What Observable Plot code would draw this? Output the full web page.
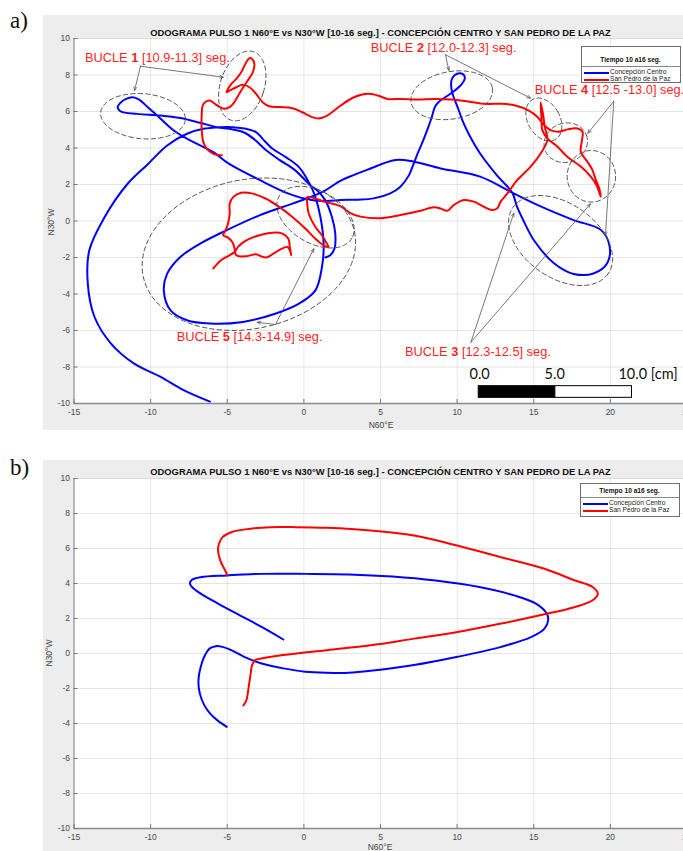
<!DOCTYPE html>
<html><head><meta charset="utf-8">
<script src="https://cdn.jsdelivr.net/npm/d3@7"></script>
<script src="https://cdn.jsdelivr.net/npm/@observablehq/plot@0.6"></script>
<style>
body{margin:0;background:#fff;}
#root{position:relative;width:683px;height:851px;overflow:hidden;font-family:"Liberation Sans",Arial,sans-serif;background:#fff;}
.bg{position:absolute;background:#ededed;}
.ov{position:absolute;white-space:nowrap;line-height:1;}
.pl{position:absolute;left:0;width:700px;}
.pl svg{max-width:none !important;}
</style></head><body>
<div id="root">
  <div class="bg" style="left:43px;top:15px;width:640px;height:415px"></div>
  <div class="bg" style="left:43px;top:460px;width:640px;height:391px"></div>
  <div id="pa" class="pl" style="top:0px"></div>
  <div id="pb" class="pl" style="top:450px"></div>
</div>
<script>
// ---------- data ----------
const xTicks = [-15, -10, -5, 0, 5, 10, 15, 20, 25];
const yTicks = [-10, -8, -6, -4, -2, 0, 2, 4, 6, 8, 10];
const seriesNames = ["Concepción Centro", "San Pedro de la Paz"];
const seriesColors = ["#0000ff", "#ff0000"];
const titleText = "ODOGRAMA PULSO 1 N60°E vs N30°W [10-16 seg.] - CONCEPCIÓN CENTRO Y SAN PEDRO DE LA PAZ";
const legendTitle = "Tiempo 10 a16 seg.";
const xLabel = "N60°E";
const yLabel = "N30°W";
const panelLabels = ["a)", "b)"];

// panel a) Concepción Centro (N60°E, N30°W) in cm
const concepcionA = [
 [1.4,-2.0],[1.72,-1.88],[2.0,-1.5],[2.05,-0.7],[1.83,0.22],[1.4,1.13],[0.86,1.68],[0.43,1.95],
 [-0.6,2.8],[-1.6,3.35],[-2.5,3.9],[-3.2,4.45],[-3.9,4.85],[-4.7,5.02],[-5.7,5.14],[-6.77,5.38],[-8.06,5.64],[-9.35,5.78],[-10.86,5.87],[-11.94,6.0],[-12.15,6.24],[-12.0,6.45],[-11.6,6.69],[-11.18,6.78],[-10.75,6.65],
 [-10.2,6.25],[-9.57,5.78],[-8.49,4.96],[-7.2,4.32],[-5.91,3.77],[-4.9,3.14],[-2.9,2.25],[-1.0,1.5],[0.5,1.15],[1.5,1.1],[2.4,1.15],[3.5,1.17],[4.56,1.24],[5.6,1.5],[6.3,1.88],[6.85,2.5],[7.17,3.16],[7.5,3.85],[7.8,4.44],[8.1,5.1],[8.35,5.7],[8.55,6.25],[8.8,6.52],[9.4,6.88],[9.85,7.15],[10.3,7.5],[10.5,7.8],[10.44,8.0],[10.18,8.1],[9.85,8.0],[9.63,7.7],[9.63,7.24],[9.74,6.88],[10.07,6.15],[10.4,5.4],[10.8,4.7],[11.5,3.7],[12.6,2.5],[13.6,1.55],
 [13.9,0.8],[14.4,-0.1],[15.0,-1.04],[16.3,-2.3],[17.6,-2.9],[18.94,-2.86],[19.8,-2.3],[19.95,-1.4],[19.4,-0.5],[17.6,0.05],[15.45,0.8],[13.6,1.55],[11.5,2.43],[8.92,2.88],[7.17,3.25],[5.97,3.34],[4.12,2.8],[3.2,2.5],[2.38,2.2],[1.4,1.68],[0.4,1.3],[-0.75,0.95],[-2.9,0.31],[-5.05,-0.51],[-6.77,-1.24],[-8.06,-1.97],[-8.92,-2.88],[-9.14,-3.8],[-8.7,-4.9],[-7.63,-5.44],[-6.13,-5.62],[-3.98,-5.53],[-1.83,-5.07],[-0.32,-4.53],[0.75,-3.8],[1.18,-2.52],[1.29,-1.24],[1.08,0.22],[0.75,1.31],[0.43,1.95],
 [-0.32,2.95],[-1.18,3.5],[-2.04,3.96],[-2.69,4.5],[-3.12,4.87],[-3.76,5.05],[-4.62,5.14],[-5.48,5.14],[-6.56,5.05],[-7.63,4.78],[-8.92,4.14],[-10.2,3.1],[-11.5,2.04],[-13.0,0.22],[-14.0,-1.6],[-14.1,-3.43],[-13.66,-5.26],[-12.6,-6.7],[-11.1,-7.8],[-9.35,-8.54],[-7.85,-9.27],[-6.13,-9.9]
];
// panel a) San Pedro de la Paz
const sanPedroA = [
 [-5.35,3.6],[-5.91,3.68],[-6.34,3.96],[-6.56,4.32],[-6.67,5.05],[-6.67,5.78],[-6.6,6.33],[-6.45,6.51],[-6.13,6.6],[-5.81,6.42],[-5.48,6.24],[-5.16,6.15],[-4.84,6.24],[-4.62,6.42],[-4.41,6.69],[-4.09,7.15],[-3.66,7.7],[-3.33,8.15],[-3.23,8.61],[-3.38,8.88],[-3.55,8.92],[-3.76,8.7],[-4.09,8.15],[-4.41,7.79],[-4.73,7.51],[-4.95,7.24],[-5.05,7.06],[-4.84,7.15],[-4.41,7.33],[-3.98,7.46],[-3.55,7.33],[-3.12,6.97],[-2.69,6.51],[-2.26,6.29],[-1.61,6.24],[-0.75,6.18],[-0.11,5.96],[0.54,5.69],[0.97,5.62],[1.52,5.78],[2.4,6.33],[3.27,6.78],[4.15,6.97],[4.81,6.88],[5.46,6.69],[6.34,6.69],[7.44,6.66],[8.53,6.69],[9.63,6.66],[10.73,6.55],[11.82,6.42],[12.92,6.42],[13.8,6.33],[14.68,6.05],[15.23,5.71],[15.67,5.26],[16.1,4.98],[16.65,4.89],[17.19,5.02],[17.85,5.07],[18.18,4.89],[18.13,4.35],[18.07,3.8],[18.5,3.25],[18.83,2.79],[19.05,2.25],[19.27,1.79],[19.37,1.33],
 [19.1,1.95],[18.72,2.43],[18.07,2.98],[17.19,3.52],[16.55,4.07],[15.89,4.53],[15.56,4.98],[15.5,5.71],[15.45,6.5],[15.6,5.9],[15.72,5.16],[15.89,4.44],[15.45,3.7],[14.8,2.98],[13.93,2.25],[13.28,1.51],[12.84,1.06],[12.62,0.7],[12.29,0.6],[11.74,0.78],[11.09,1.06],[10.44,1.15],[9.79,0.88],[9.35,0.56],[8.92,0.69],[8.48,0.75],[7.61,0.56],[6.31,0.33],[5.0,0.15],[3.7,0.24],[3.0,0.45],[2.4,0.8],[1.4,1.04],[0.22,1.31],
 [0.22,0.95],[0.32,0.4],[0.75,-0.33],[1.18,-0.78],[1.5,-1.24],[1.61,-1.42],[1.29,-1.33],[0.75,-0.97],[0.11,-0.42],[-0.75,0.22],[-1.61,0.77],[-2.47,1.22],[-3.33,1.5],[-4.09,1.55],[-4.62,1.31],[-4.84,0.95],[-4.84,0.4],[-4.95,-0.15],[-5.16,-0.6],[-5.27,-0.78],[-4.95,-0.91],[-4.67,-1.15],[-4.52,-1.51],[-4.41,-1.88],[-3.76,-1.93],[-3.12,-1.82],[-2.8,-1.93],[-2.47,-2.0],[-2.04,-1.82],[-1.61,-1.6],[-1.08,-1.42],[-0.92,-1.6],[-0.82,-1.88],[-0.92,-1.42],[-1.01,-0.97],[-1.4,-0.69],[-2.04,-0.64],[-2.9,-0.78],[-3.76,-1.06],[-4.3,-1.42],[-4.52,-1.7],[-5.05,-1.97],[-5.48,-2.2],[-5.91,-2.6]
];
// panel b) Concepción Centro
const concepcionB = [
 [-1.34,0.8],[-2.76,1.52],[-4.18,2.18],[-5.6,2.85],[-6.73,3.42],[-7.3,3.8],[-7.44,4.0],[-7.3,4.21],[-6.73,4.36],[-5.03,4.46],[-2.76,4.55],[0.09,4.55],[2.93,4.52],[5.77,4.4],[8.6,4.17],[11.45,3.8],[13.72,3.32],[15.14,2.85],[15.85,2.28],[15.94,1.9],[15.7,1.42],[14.86,0.95],[12.87,0.38],[10.03,-0.19],[7.19,-0.66],[4.35,-0.99],[2.93,-1.1],[1.5,-1.1],[0.09,-1.04],[-1.34,-0.85],[-2.76,-0.57],[-3.89,-0.19],[-4.74,0.19],[-5.31,0.38],[-5.74,0.42],[-6.16,0.28],[-6.45,-0.09],[-6.73,-0.76],[-6.88,-1.52],[-6.8,-2.25],[-6.5,-2.95],[-6.1,-3.45],[-5.6,-3.85],[-5.03,-4.19]
];
// panel b) San Pedro de la Paz
const sanPedroB = [
 [-4.97,4.46],[-5.17,4.8],[-5.45,5.31],[-5.6,5.89],[-5.54,6.27],[-5.31,6.65],[-4.74,6.93],[-3.6,7.12],[-2.19,7.22],[-0.48,7.22],[1.5,7.18],[4.35,7.03],[7.19,6.74],[10.0,6.17],[12.87,5.5],[15.7,4.84],[17.7,4.17],[18.84,3.8],[19.18,3.42],[18.84,3.04],[17.7,2.66],[15.7,2.24],[12.87,1.71],[10.03,1.23],[7.19,0.85],[4.35,0.47],[1.5,0.19],[-1.34,-0.09],[-2.76,-0.28],[-3.18,-0.38],[-3.38,-0.66],[-3.47,-1.14],[-3.6,-1.9],[-3.75,-2.66],[-3.95,-2.97]
];

// ---------- annotations (panel a) ----------
const loopLabels = [
 {num: "1", range: " [10.9-11.3] seg.", x: -14.25, y: 8.92},
 {num: "2", range: " [12.0-12.3] seg.", x: 4.39, y: 9.46},
 {num: "4", range: " [12.5 -13.0] seg.", x: 15.1, y: 7.15},
 {num: "5", range: " [14.3-14.9] seg.", x: -8.27, y: -6.38},
 {num: "3", range: " [12.3-12.5] seg.", x: 6.63, y: -7.21}
];
const loopEllipses = [
 {id: "e1", cx: -10.50, cy: 5.74, a: 42.5, b: 22.5, angle: 5},
 {id: "e2", cx: -4.02, cy: 7.40, a: 22, b: 36, angle: 18},
 {id: "e3", cx: 9.65, cy: 6.89, a: 41.3, b: 23.7, angle: -10},
 {id: "e4a", cx: 15.66, cy: 5.56, a: 16, b: 23, angle: -30},
 {id: "e4b", cx: 17.09, cy: 4.29, a: 22, b: 19.5, angle: -20},
 {id: "e4c", cx: 18.76, cy: 2.45, a: 24.2, b: 25.8, angle: 0},
 {id: "e5", cx: 16.75, cy: -1.07, a: 58, b: 37, angle: 35},
 {id: "e6", cx: -3.59, cy: -1.82, a: 108, b: 74.5, angle: -12},
 {id: "e7", cx: 0.76, cy: 0.21, a: 42, b: 26, angle: 30}
];
const loopArrows = [
 {x1: -10.66, y1: 8.48, x2: -11.05, y2: 7.15},
 {x1: -10.66, y1: 8.48, x2: -5.26, y2: 7.88},
 {x1: 9.24, y1: 9.11, x2: 9.46, y2: 8.25},
 {x1: 9.24, y1: 9.11, x2: 14.79, y2: 6.73},
 {x1: 20.22, y1: 6.56, x2: 18.53, y2: 4.81},
 {x1: 20.22, y1: 6.56, x2: 19.68, y2: -0.79},
 {x1: 10.9, y1: -6.64, x2: 13.7, y2: 0.43},
 {x1: 10.9, y1: -6.64, x2: 18.7, y2: 0.94},
 {x1: -1.85, y1: -5.67, x2: -3.05, y2: -5.55},
 {x1: -1.85, y1: -5.67, x2: 0.65, y2: -1.52}
];
const scaleBar = [
 {x1: 11.41, x2: 16.41, y1: -9.69, y2: -9.05, fill: "#000"},
 {x1: 16.41, x2: 21.41, y1: -9.69, y2: -9.05, fill: "#fff"}
];
const scaleLabels = [
 {text: "0.0", x: 11.5, y: -8.42, anchor: "middle"},
 {text: "5.0", x: 16.4, y: -8.42, anchor: "middle"},
 {text: "10.0 [cm]", x: 20.56, y: -8.42, anchor: "start"}
];

// ---------- layout ----------
const W = 700, ML = 73.5, MR = 13.5;
const root = document.getElementById("root");
const FONT = '"Liberation Sans", Arial, sans-serif';

function rows(pts) { return pts.map(([x, y], i) => ({x, y, i})); }

function ellipsePoints(list, kx, ky) {
  const out = [];
  for (const e of list) {
    const phi = e.angle * Math.PI / 180;
    for (let k = 0; k <= 90; k++) {
      const t = k / 90 * 2 * Math.PI;
      const c = Math.cos(t), s = Math.sin(t);
      const dx = e.a * c * Math.cos(phi) - e.b * s * Math.sin(phi);
      const dy = e.a * c * Math.sin(phi) + e.b * s * Math.cos(phi);
      out.push({id: e.id, x: e.cx + dx / kx, y: e.cy - dy / ky});
    }
  }
  return out;
}

function makePanel(concep, sanped, H, MT, MB, annotate) {
  const plotW = W - ML - MR, plotH = H - MT - MB;
  const kx = plotW / (xTicks[xTicks.length - 1] - xTicks[0]);
  const ky = plotH / (yTicks[yTicks.length - 1] - yTicks[0]);
  const extra = [];
  if (annotate) {
    extra.push(
      Plot.line(ellipsePoints(loopEllipses, kx, ky), {x: "x", y: "y", z: "id", stroke: "#555", strokeWidth: 1, strokeDasharray: "4.5,3"}),
      Plot.arrow(loopArrows, {x1: "x1", y1: "y1", x2: "x2", y2: "y2", stroke: "#555", strokeWidth: 0.8, headLength: 7, headAngle: 45}),
      Plot.rect(scaleBar, {x1: "x1", x2: "x2", y1: "y1", y2: "y2", fill: "fill", stroke: "#000", strokeWidth: 1})
    );
  }
  return Plot.plot({
    width: W, height: H,
    marginLeft: ML, marginRight: MR, marginTop: MT, marginBottom: MB,
    x: {domain: [xTicks[0], xTicks[xTicks.length - 1]]},
    y: {domain: [yTicks[0], yTicks[yTicks.length - 1]]},
    style: {background: "transparent", fontFamily: FONT, fontSize: "8.5px", color: "#4a4a4a", overflow: "visible", maxWidth: "none"},
    marks: [
      Plot.frame({fill: "white", stroke: null}),
      Plot.gridX(xTicks, {stroke: "#000", strokeOpacity: 0.1}),
      Plot.gridY(yTicks, {stroke: "#000", strokeOpacity: 0.1}),
      Plot.line(rows(concep), {x: "x", y: "y", stroke: seriesColors[0], strokeWidth: 2, curve: "catmull-rom"}),
      Plot.line(rows(sanped), {x: "x", y: "y", stroke: seriesColors[1], strokeWidth: 2, curve: "catmull-rom"}),
      ...extra,
      Plot.ruleX([xTicks[0]], {stroke: "#8a8a8a", strokeWidth: 1}),
      Plot.ruleY([yTicks[0]], {stroke: "#8a8a8a", strokeWidth: 1.5}),
      Plot.ruleX(xTicks, {insetTop: plotH - 4, stroke: "#777"}),
      Plot.ruleY(yTicks, {insetRight: plotW - 4, stroke: "#777"}),
      Plot.axisX(xTicks, {tickSize: 0, tickPadding: 5, label: null, tickFormat: d => String(d)}),
      Plot.axisY(yTicks, {tickSize: 0, tickPadding: 4, label: null, tickFormat: d => String(d)})
    ]
  });
}

function put(html, left, top, css) {
  const d = document.createElement("div");
  d.className = "ov";
  d.innerHTML = html;
  Object.assign(d.style, {left: left + "px", top: top + "px"}, css || {});
  root.appendChild(d);
  return d;
}

function legend(left, top, h, titleY, sepY, e1Y, e2Y) {
  const box = document.createElement("div");
  Object.assign(box.style, {position: "absolute", left: left + "px", top: top + "px", width: "100px", height: h + "px",
    background: "#fff", border: "1px solid #6e6e6e", boxSizing: "border-box", fontFamily: FONT});
  const t = document.createElement("div");
  t.textContent = legendTitle;
  Object.assign(t.style, {position: "absolute", left: "0", width: "100%", textAlign: "center", top: (titleY - 3.5) + "px",
    fontSize: "6.6px", fontWeight: "bold", lineHeight: "1", color: "#111"});
  box.appendChild(t);
  const sep = document.createElement("div");
  Object.assign(sep.style, {position: "absolute", left: "0", width: "100%", top: sepY + "px", height: "0", borderTop: "1px solid #888"});
  box.appendChild(sep);
  [e1Y, e2Y].forEach((yy, i) => {
    const ln = document.createElement("div");
    Object.assign(ln.style, {position: "absolute", left: "2px", width: "25px", top: (yy - 1) + "px", height: "2px", background: seriesColors[i]});
    box.appendChild(ln);
    const tx = document.createElement("div");
    tx.textContent = seriesNames[i];
    Object.assign(tx.style, {position: "absolute", left: "28.5px", top: (yy - 3.6) + "px", fontSize: "6.6px", lineHeight: "1", color: "#222", whiteSpace: "nowrap"});
    box.appendChild(tx);
  });
  root.appendChild(box);
}

// ---------- panel a ----------
const HA = 440, MTA = 38, MBA = 37;
const plotA = makePanel(concepcionA, sanPedroA, HA, MTA, MBA, true);
document.getElementById("pa").appendChild(plotA);
const sxA = plotA.scale("x"), syA = plotA.scale("y");

// ---------- panel b ----------
const HB = 401, MTB = 28, MBB = 23;
const plotB = makePanel(concepcionB, sanPedroB, HB, MTB, MBB, false);
document.getElementById("pb").appendChild(plotB);

// ---------- texts ----------
const titleCss = {fontFamily: FONT, fontWeight: "bold", fontSize: "9.4px", color: "#111", transform: "translate(-50%,-50%)"};
put(titleText, 380.5, 32.5, titleCss);
put(titleText, 380.5, 472, titleCss);

const axLab = {fontFamily: FONT, fontSize: "8.5px", color: "#444"};
put(xLabel, 381, 425, Object.assign({transform: "translate(-50%,-50%)"}, axLab));
put(xLabel, 380, 846.5, Object.assign({transform: "translate(-50%,-50%)"}, axLab));
put(yLabel, 50.5, 221.5, Object.assign({transform: "translate(-50%,-50%) rotate(-90deg)"}, axLab));
put(yLabel, 49, 653, Object.assign({transform: "translate(-50%,-50%) rotate(-90deg)"}, axLab));

const panCss = {fontFamily: '"Liberation Serif","Times New Roman",serif', fontSize: "23px", color: "#111"};
put(panelLabels[0], 10, 9, panCss);
put(panelLabels[1], 10, 456, panCss);

legend(580.5, 46, 37, 13, 19, 26, 33);
legend(579.5, 483, 34, 7, 12.5, 19.5, 27);

// loop labels
for (const L of loopLabels) {
  put("BUCLE <b>" + L.num + "</b>" + L.range, sxA.apply(L.x), syA.apply(L.y),
    {fontFamily: FONT, fontSize: "12.8px", color: "#ff1f1f", transform: "translateY(-50%)"});
}
// scale bar labels
for (const S of scaleLabels) {
  put(S.text, sxA.apply(S.x), syA.apply(S.y),
    {fontFamily: "Lato, 'Open Sans', sans-serif", fontSize: "14.5px", color: "#111",
     transform: S.anchor === "middle" ? "translate(-50%,-50%)" : "translateY(-50%)"});
}
</script>
</body></html>
